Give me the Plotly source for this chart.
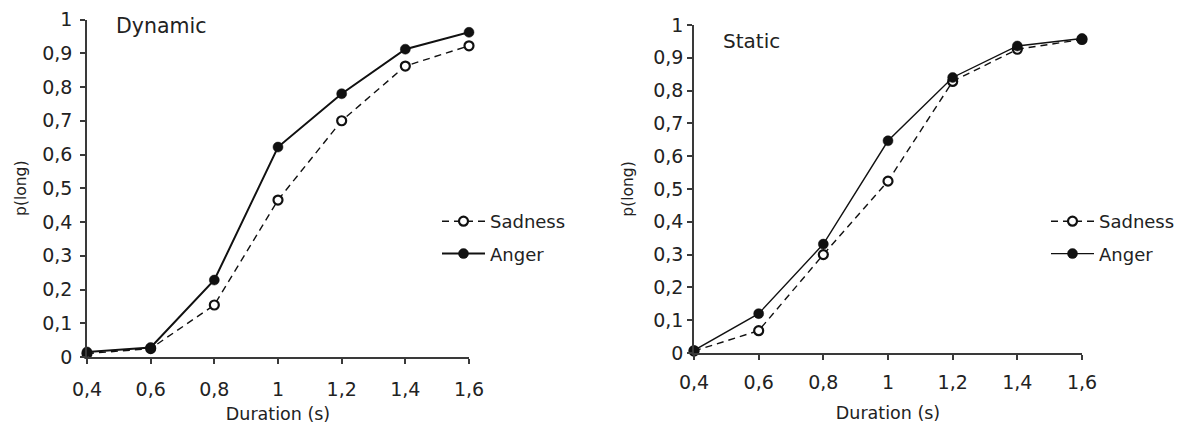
import plotly.graph_objects as go

durations = [0.4, 0.6, 0.8, 1.0, 1.2, 1.4, 1.6]
dur_labels = ["0,4", "0,6", "0,8", "1", "1,2", "1,4", "1,6"]
y_ticks = [0, 0.1, 0.2, 0.3, 0.4, 0.5, 0.6, 0.7, 0.8, 0.9, 1.0]
y_labels = ["0", "0,1", "0,2", "0,3", "0,4", "0,5", "0,6", "0,7", "0,8", "0,9", "1"]

dyn_sadness = [0.01, 0.025, 0.154, 0.465, 0.70, 0.862, 0.922]
dyn_anger = [0.015, 0.028, 0.228, 0.622, 0.78, 0.912, 0.962]
sta_sadness = [0.006, 0.068, 0.30, 0.524, 0.828, 0.926, 0.956]
sta_anger = [0.008, 0.12, 0.332, 0.647, 0.84, 0.936, 0.959]

W, H = 1180, 424
FONT = "DejaVu Sans, Verdana, sans-serif"
AX = "#3a3a3a"
TXT = "#222"

def px(x):
    return x / W

def py(y):
    return 1 - y / H

fig = go.Figure()

def add_pair(sad, ang, xa, ya, legend, aw):
    fig.add_trace(go.Scatter(
        x=durations, y=sad, name="Sadness", mode="lines+markers",
        xaxis=xa, yaxis=ya, legend=legend, legendgroup=legend + "s",
        cliponaxis=False,
        line=dict(color="#111", width=1.4, dash="7px,5px"),
        marker=dict(symbol="circle", size=9, color="white",
                    line=dict(color="#111", width=2.2)),
    ))
    fig.add_trace(go.Scatter(
        x=durations, y=ang, name="Anger", mode="lines+markers",
        xaxis=xa, yaxis=ya, legend=legend, legendgroup=legend + "a",
        cliponaxis=False,
        line=dict(color="#111", width=aw),
        marker=dict(symbol="circle", size=10, color="#111",
                    line=dict(color="#111", width=0.5)),
    ))

add_pair(dyn_sadness, dyn_anger, "x", "y", "legend", 2.0)
add_pair(sta_sadness, sta_anger, "x2", "y2", "legend2", 1.4)

tickfont = dict(family=FONT, size=19, color=TXT)

def xaxis(dom, anchor, standoff, tstand):
    return dict(
        domain=dom, anchor=anchor, range=[0.4, 1.6], automargin=False,
        tickvals=durations, ticktext=dur_labels, ticks="outside",
        ticklen=5, tickcolor=AX, tickwidth=1.5, showline=True,
        linecolor=AX, linewidth=1.5, showgrid=False, zeroline=False,
        tickfont=tickfont, ticklabelstandoff=standoff,
        title=dict(text="Duration (s)", font=dict(family=FONT, size=17.5, color=TXT),
                   standoff=tstand),
    )

def yaxis(dom, anchor, standoff, tstand):
    return dict(
        domain=dom, anchor=anchor, range=[0, 1], automargin=False,
        tickvals=y_ticks, ticktext=y_labels, ticks="outside",
        ticklen=5, tickcolor=AX, tickwidth=1.5, showline=True,
        linecolor=AX, linewidth=1.5, showgrid=False, zeroline=False,
        tickfont=tickfont, ticklabelstandoff=standoff,
        title=dict(text="p(long)", font=dict(family=FONT, size=15.5, color=TXT),
                   standoff=tstand),
    )

legfont = dict(family=FONT, size=18, color=TXT)

fig.update_layout(
    width=W, height=H,
    margin=dict(l=0, r=0, t=0, b=0, pad=0, autoexpand=False),
    paper_bgcolor="white", plot_bgcolor="white",
    showlegend=True,
    xaxis=xaxis([px(87), px(469)], "y", 9, 11),
    yaxis=yaxis([py(357), py(19.5)], "x", 4, 12),
    xaxis2=xaxis([px(694), px(1082)], "y2", 6, 15),
    yaxis2=yaxis([py(353), py(25)], "x2", 0, 16),
    legend=dict(x=px(437), y=py(203), xanchor="left", yanchor="top",
                font=legfont, bgcolor="rgba(0,0,0,0)", itemwidth=43,
                tracegroupgap=6),
    legend2=dict(x=px(1046), y=py(203), xanchor="left", yanchor="top",
                 font=legfont, bgcolor="rgba(0,0,0,0)", itemwidth=43,
                 tracegroupgap=6),
    annotations=[
        dict(text="Dynamic", x=px(114), y=py(26), xref="paper", yref="paper",
             xanchor="left", yanchor="middle", showarrow=False,
             font=dict(family=FONT, size=20.5, color=TXT)),
        dict(text="Static", x=px(721), y=py(41), xref="paper", yref="paper",
             xanchor="left", yanchor="middle", showarrow=False,
             font=dict(family=FONT, size=20, color=TXT)),
    ],
)

fig.write_html(
    "out.html",
    config={"displayModeBar": False},
    post_script="document.body.style.margin='0';document.body.style.overflow='hidden';",
)
